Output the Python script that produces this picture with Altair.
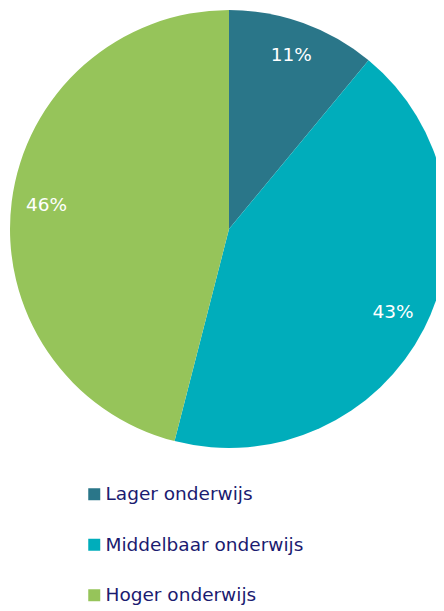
import altair as alt
import pandas as pd

categories = ["Lager onderwijs", "Middelbaar onderwijs", "Hoger onderwijs"]
values = [11, 43, 46]
labels = ["11%", "43%", "46%"]
colors = ["#2a7689", "#00adbb", "#96c45a"]

df = pd.DataFrame({
    "cat": categories,
    "value": values,
    "label": labels,
    "order": [0, 1, 2],
})

base = alt.Chart(df).encode(
    theta=alt.Theta("value:Q", stack=True),
    order=alt.Order("order:Q"),
)

arc = base.mark_arc(outerRadius=219, stroke=None).encode(
    x=alt.value(221),
    y=alt.value(221),
    color=alt.Color(
        "cat:N",
        sort=categories,
        scale=alt.Scale(domain=categories, range=colors),
        legend=alt.Legend(
            title=None,
            orient="none",
            legendX=77,
            legendY=477,
            symbolType="square",
            symbolSize=144,
            symbolStrokeWidth=0,
            labelFontSize=18.5,
            labelFont="DejaVu Sans",
            labelColor="#1b1b70",
            labelOffset=2,
            rowPadding=31.5,
            labelLimit=400,
        ),
    ),
)

text = base.mark_text(radius=184, fontSize=18.5, font="DejaVu Sans", color="white").encode(
    x=alt.value(221),
    y=alt.value(220),
    text="label:N",
)

chart = (arc + text).properties(
    width=428,
    height=603,
    autosize=alt.AutoSizeParams(type="none"),
    padding=0,
).configure_view(stroke=None)

chart.save("out.html", embed_options={"renderer": "svg", "actions": False})
